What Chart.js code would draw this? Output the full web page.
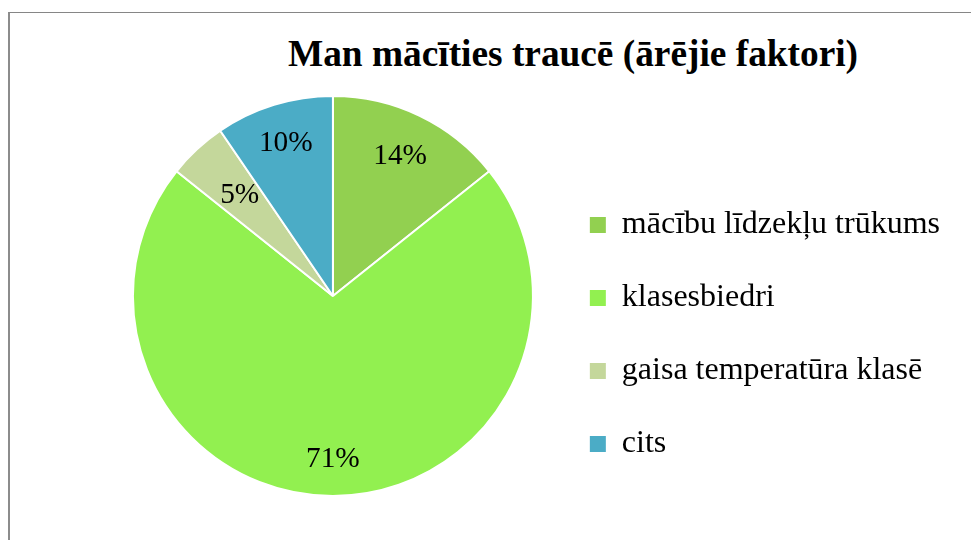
<!DOCTYPE html>
<html>
<head>
<meta charset="utf-8">
<script src="https://cdn.jsdelivr.net/npm/chart.js@4"></script>
<style>
html,body{margin:0;padding:0;background:#fff;overflow:hidden}
#wrap{position:relative;width:971px;height:540px;overflow:hidden}
#frame{position:absolute;left:8px;top:12px;width:1200px;height:800px;border-top:1px solid #868686;border-left:2px solid #8c8c8c}
#title{position:absolute;left:0;top:33px;width:1146px;margin:0;text-align:center;font:bold 37.33px/42px "Liberation Serif","Times New Roman",serif;color:#000}
#box{position:absolute;left:0;top:0;width:971px;height:540px}
</style>
</head>
<body>
<div id="wrap">
  <div id="frame"></div>
  <h1 id="title">Man mācīties traucē (ārējie faktori)</h1>
  <div id="box"><canvas id="c"></canvas></div>
</div>
<script>
const categories = ['mācību līdzekļu trūkums', 'klasesbiedri', 'gaisa temperatūra klasē', 'cits'];
const counts = [3, 15, 1, 2];

const sliceColors = ['#92D050', '#92F050', '#C4D79B', '#4BACC6'];
const serif = '"Liberation Serif", "Times New Roman", serif';

// percent labels inside the slices
const pieLabels = {
  id: 'pieLabels',
  afterDatasetsDraw(chart, args, opts) {
    const ctx = chart.ctx;
    const meta = chart.getDatasetMeta(0);
    const total = counts.reduce((a, b) => a + b, 0);
    ctx.save();
    ctx.font = opts.font;
    ctx.fillStyle = '#000';
    ctx.textAlign = 'center';
    ctx.textBaseline = 'middle';
    meta.data.forEach((arc, i) => {
      const p = arc.getProps(['x', 'y', 'startAngle', 'endAngle', 'outerRadius'], true);
      const mid = (p.startAngle + p.endAngle) / 2;
      const r = p.outerRadius * opts.radius[i];
      ctx.fillText(Math.round(counts[i] / total * 100) + '%', p.x + Math.cos(mid) * r, p.y + Math.sin(mid) * r);
    });
    ctx.restore();
  }
};

new Chart(document.getElementById('c'), {
  type: 'pie',
  data: {
    labels: categories,
    datasets: [{ data: counts, backgroundColor: sliceColors, borderColor: '#fff', borderWidth: 2, radius: 200 }]
  },
  options: {
    responsive: true, maintainAspectRatio: false, animation: false,
    events: [],
    layout: { padding: { left: 117, top: 91, bottom: 39, right: 21 } },
    plugins: {
      tooltip: { enabled: false },
      legend: {
        position: 'right', align: 'end',
        labels: {
          boxWidth: 16, boxHeight: 16, padding: 41, color: '#000',
          font: { family: serif, size: 32 },
          generateLabels: chart => Chart.overrides.pie.plugins.legend.labels.generateLabels(chart)
            .map(l => Object.assign(l, { lineWidth: 0 }))
        }
      },
      pieLabels: { font: '29.33px ' + serif, radius: [0.775, 0.815, 0.685, 0.8] }
    }
  },
  plugins: [pieLabels]
});
</script>
</body>
</html>
